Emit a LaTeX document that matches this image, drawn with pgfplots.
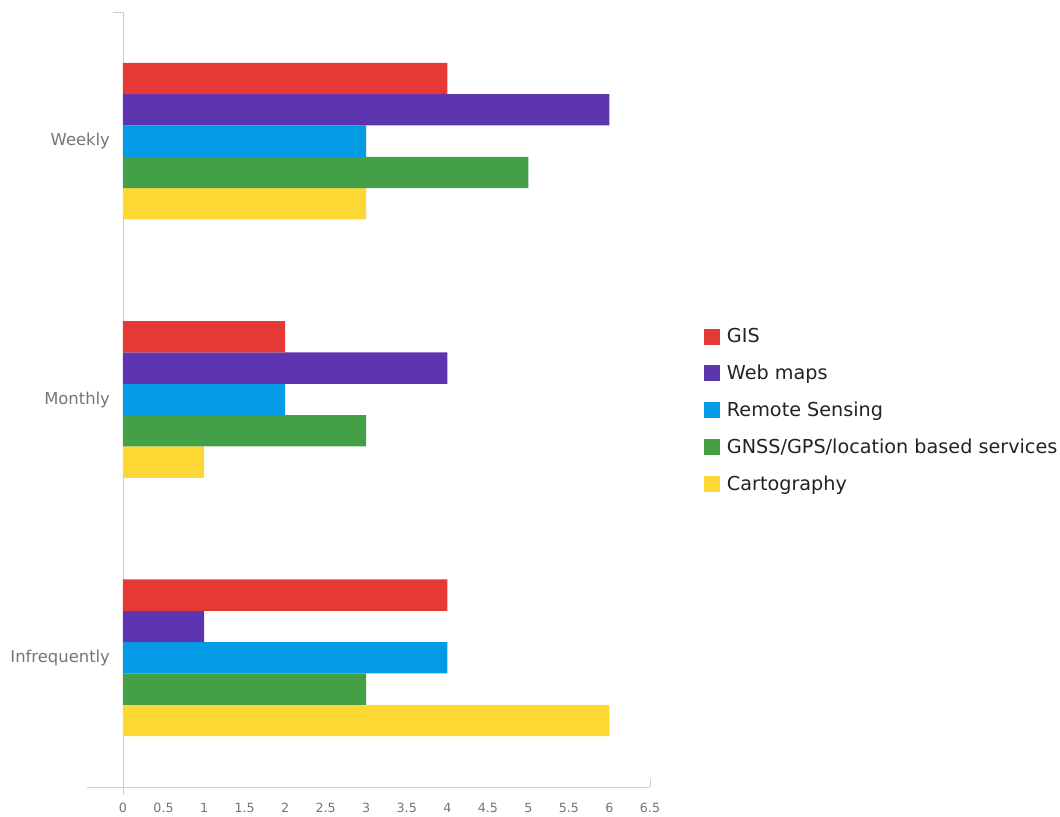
\documentclass[border=0pt]{standalone}
\usepackage{pgfplots}
\pgfplotsset{compat=1.18}
\usepackage{fontspec}
\setmainfont{DejaVu Sans}
\definecolor{cGIS}{HTML}{E53935}
\definecolor{cWeb}{HTML}{5E35B1}
\definecolor{cRS}{HTML}{039BE5}
\definecolor{cGNSS}{HTML}{43A047}
\definecolor{cCarto}{HTML}{FDD835}
\definecolor{axgray}{HTML}{CCCCCC}
\definecolor{tickgray}{HTML}{757575}
\definecolor{legtext}{HTML}{222222}
\begin{document}
\begin{tikzpicture}
\useasboundingbox (-92.25pt,-22.5pt) rectangle (702.75pt,590.25pt);
\begin{axis}[
  at={(0,0)}, anchor=south west,
  scale only axis, width=395.25pt, height=581.25pt,
  xbar=0pt, bar width=23.5pt,
  xmin=0, xmax=6.5, ymin=-0.5, ymax=2.5,
  ytick={0,1,2}, yticklabels={Infrequently,Monthly,Weekly},
  xtick={0,0.5,...,6.5},
  /pgf/number format/assume math mode=true,
  xticklabel style={font=\fontsize{9.5}{11}\selectfont, text=tickgray,
    /pgf/number format/fixed, anchor=base, yshift=-19pt},
  yticklabel style={font=\fontsize{12.3}{14}\selectfont, text=tickgray, xshift=-2pt},
  axis x line*=bottom, axis y line*=left,
  axis line style={draw=axgray, -},
  tick style={draw=none},
  clip=false,
  reverse legend,
  legend style={at={(1.095,0.486)}, anchor=west, draw=none, fill=none,
    font=\fontsize{14.4}{16}\selectfont, text=legtext, row sep=11.25pt,
    /tikz/every odd column/.append style={column sep=3pt}},
  legend cell align=left,
  legend image code/.code={\fill[#1,draw=none] (0pt,-6pt) rectangle (12pt,6pt);},
]
\addplot[fill=cCarto, draw=none] coordinates {(3,2) (1,1) (6,0)};
\addplot[fill=cGNSS, draw=none] coordinates {(5,2) (3,1) (3,0)};
\addplot[fill=cRS, draw=none] coordinates {(3,2) (2,1) (4,0)};
\addplot[fill=cWeb, draw=none] coordinates {(6,2) (4,1) (1,0)};
\addplot[fill=cGIS, draw=none] coordinates {(4,2) (2,1) (4,0)};
\legend{Cartography,GNSS/GPS/location based services,Remote Sensing,Web maps,GIS}
\draw[axgray] (axis cs:0,-0.5) -- ++(0pt,-6pt);
\draw[axgray] (axis cs:0,2.5) -- ++(-7.5pt,0pt);
\draw[axgray] (axis cs:0,-0.5) -- ++(-27pt,0pt);
\draw[axgray] (axis cs:6.5,-0.5) -- ++(0pt,6pt);
\end{axis}
\end{tikzpicture}
\end{document}
